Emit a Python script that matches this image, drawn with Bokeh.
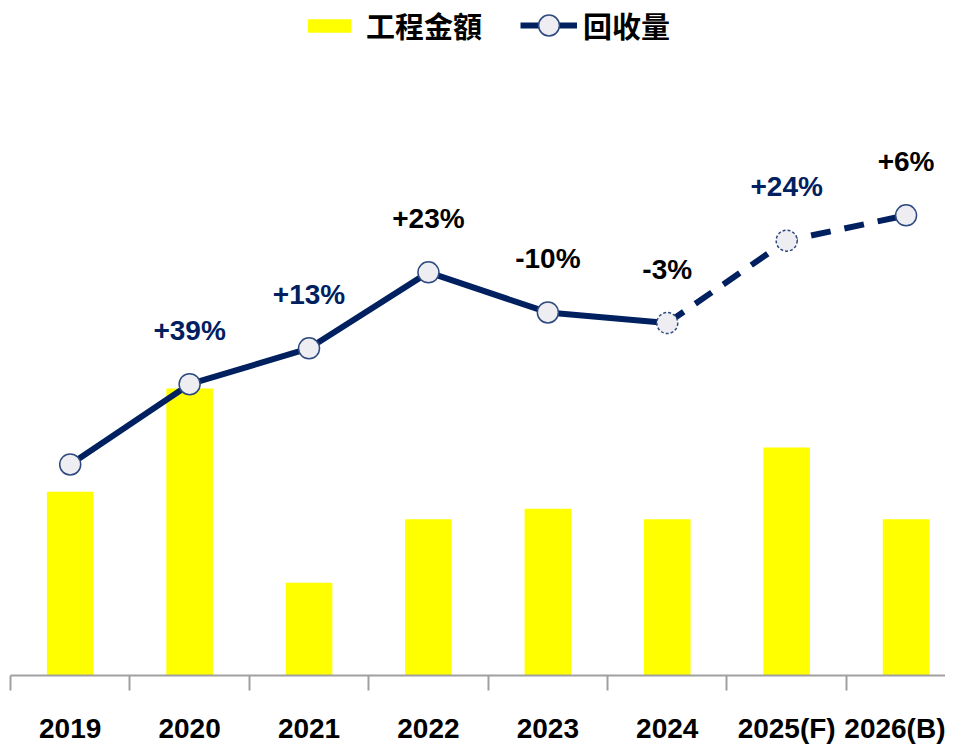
from bokeh.plotting import figure
from bokeh.models import (Range1d, LinearAxis, FixedTicker, Legend, LegendItem, ColumnDataSource)
from bokeh.embed import file_html
from bokeh.resources import INLINE
from bokeh.core.properties import value

# ---- data (relative units, 回收量 2019 = 100) ----
years = ["2019", "2020", "2021", "2022", "2023", "2024", "2025(F)", "2026(B)"]
project_amount = [87, 136, 44, 74, 79, 74, 108, 74]          # 工程金額
recovery = [100, 138, 155, 191, 172, 167, 206, 218]           # 回收量
growth_labels = ["", "+39%", "+13%", "+23%", "-10%", "-3%", "+24%", "+6%"]
growth_colors = ["#002060", "#002060", "#002060", "#000000", "#000000", "#000000", "#002060", "#000000"]

NAVY = "#002060"
YELLOW = "#FFFF00"
FONT = "Liberation Sans"
CJK = "Noto Sans CJK TC"

idx = list(range(len(years)))

p = figure(frame_width=935, frame_height=675, output_backend="svg", toolbar_location=None,
           x_range=Range1d(-0.5, 7.33), y_range=Range1d(0, 319.8),
           x_axis_location=None, y_axis_location=None,
           min_border_left=10, min_border_right=0, min_border_top=0, min_border_bottom=0)
p.outline_line_color = None
p.xgrid.visible = False
p.ygrid.visible = False
p.background_fill_color = "white"

# bars
bars = p.vbar(x=idx, top=project_amount, width=0.39, bottom=0, fill_color=YELLOW, line_color=None)

# line: actual (solid) and forecast (dashed)
solid_n = 6
l1 = p.line(idx[:solid_n], recovery[:solid_n], line_color=NAVY, line_width=6, line_join="round")
l2 = p.line(idx[solid_n - 1:], recovery[solid_n - 1:], line_color=NAVY, line_width=6, line_dash="20 14")

solid_pts = [0, 1, 2, 3, 4, 7]
dash_pts = [5, 6]
m1 = p.scatter([idx[i] for i in solid_pts], [recovery[i] for i in solid_pts], marker="circle", size=21,
               fill_color="#EEEEF2", line_color="#2F4A80", line_width=1.5)
m2 = p.scatter([idx[i] for i in dash_pts], [recovery[i] for i in dash_pts], marker="circle", size=21,
               fill_color="#EEEEF2", line_color="#2F4A80", line_width=1.5, line_dash="3 2")

# growth labels
src = ColumnDataSource(dict(x=idx, y=recovery, t=growth_labels, c=growth_colors))
p.text(x="x", y="y", text="t", source=src, text_color="c", y_offset=-54,
       text_align="center", text_baseline="middle", text_font=value(FONT),
       text_font_style="bold", text_font_size="28px")

# axis with boundary ticks
ax1 = LinearAxis(ticker=FixedTicker(ticks=[i - 0.5 for i in range(len(years) + 1)]))
ax1.axis_line_color = "#A0A0A0"
ax1.axis_line_width = 2
ax1.major_tick_line_color = "#A0A0A0"
ax1.major_tick_line_width = 2
ax1.major_tick_in = 0
ax1.major_tick_out = 15
ax1.minor_tick_line_color = None
ax1.major_label_text_font_size = "1px"
ax1.major_label_text_color = None
ax1.major_label_standoff = 0
p.add_layout(ax1, "below")

# axis with category labels
ax2 = LinearAxis(ticker=FixedTicker(ticks=idx))
ax2.major_label_overrides = {i: years[i] for i in idx}
ax2.axis_line_color = None
ax2.major_tick_line_color = None
ax2.minor_tick_line_color = None
ax2.major_label_text_font = FONT
ax2.major_label_text_font_style = "bold"
ax2.major_label_text_font_size = "28px"
ax2.major_label_text_color = "#000000"
ax2.major_label_standoff = 16
p.add_layout(ax2, "below")

common = dict(orientation="horizontal", label_text_font=CJK, label_text_font_style="bold",
              label_text_font_size="29px", label_text_color="#000000",
              padding=0, margin=0, border_line_color=None, background_fill_alpha=0,
              label_text_baseline="middle")
leg1 = Legend(items=[LegendItem(label="工程金額", renderers=[bars])],
              location=(292, 626), glyph_width=54, glyph_height=17, label_height=48,
              label_standoff=10, **common)
leg2 = Legend(items=[LegendItem(label="回收量", renderers=[l1, m1])],
              location=(510, 624), glyph_width=57, glyph_height=52, label_height=48,
              label_standoff=6, **common)
p.add_layout(leg1)
p.add_layout(leg2)

open("out.html", "w").write(file_html(p, INLINE))
